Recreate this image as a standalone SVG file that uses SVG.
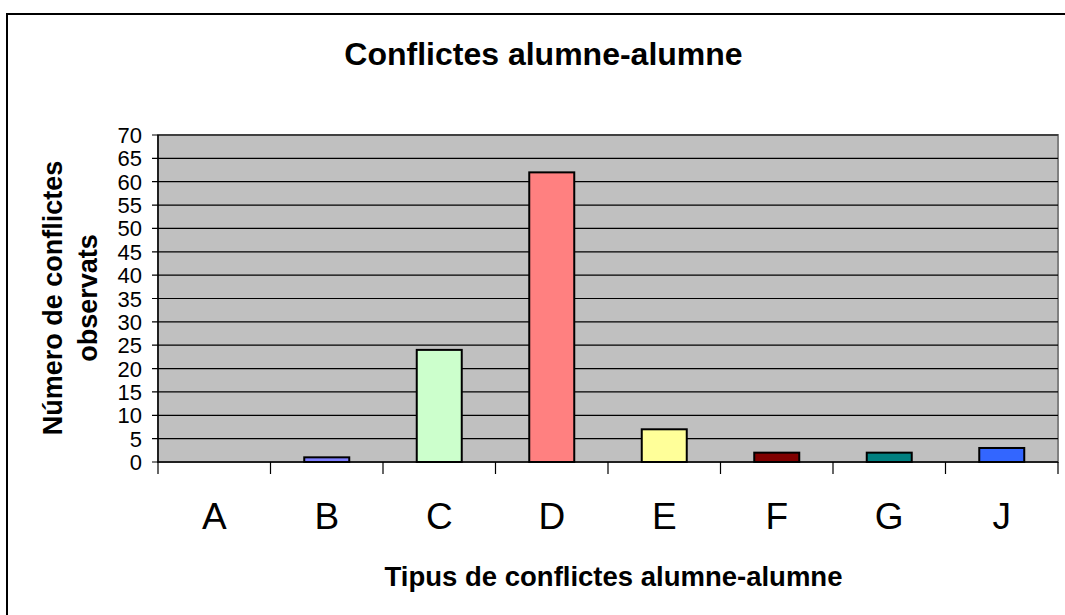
<svg xmlns="http://www.w3.org/2000/svg" width="1065" height="615" viewBox="0 0 1065 615">
<style>
text{font-family:"Liberation Sans",Arial,sans-serif;fill:#000}
.ylab{font-size:22px;text-anchor:end}
.xlab{font-size:37px;text-anchor:middle}
.ttl{font-size:32px;font-weight:bold;text-anchor:middle}
.axt{font-size:27px;font-weight:bold;text-anchor:middle}
.grid{stroke:#000;stroke-width:1.2}
.tick{stroke:#000;stroke-width:1.2}
.bar{stroke:#000;stroke-width:2}
</style>
<rect x="0" y="0" width="1065" height="615" fill="#fff"/>
<rect x="7" y="14" width="1070" height="620" fill="#fff" stroke="#000" stroke-width="2"/>
<g id="plot">
<rect x="158" y="135" width="900" height="327" fill="#C0C0C0" stroke="#808080" stroke-width="2"/>
</g>
<g id="connectors">
<path class="grid" d="M158 438.64H1058M158 415.29H1058M158 391.93H1058M158 368.57H1058M158 345.21H1058M158 321.86H1058M158 298.5H1058M158 275.14H1058M158 251.79H1058M158 228.43H1058M158 205.07H1058M158 181.71H1058M158 158.36H1058M158 135H1058"/>
<path class="tick" d="M152 462H158M152 438.64H158M152 415.29H158M152 391.93H158M152 368.57H158M152 345.21H158M152 321.86H158M152 298.5H158M152 275.14H158M152 251.79H158M152 228.43H158M152 205.07H158M152 181.71H158M152 158.36H158M152 135H158"/>
<path class="tick" d="M158 462V474M270.5 462V474M383 462V474M495.5 462V474M608 462V474M720.5 462V474M833 462V474M945.5 462V474M1058 462V474"/>
<path d="M158 135V462H1058" fill="none" stroke="#000" stroke-width="1.5"/>
</g>
<g id="bar-B"><rect class="bar" x="304.25" y="457.33" width="45" height="4.67" fill="#8080FF"/></g>
<g id="bar-C"><rect class="bar" x="416.75" y="349.89" width="45" height="112.11" fill="#CCFFCC"/></g>
<g id="bar-D"><rect class="bar" x="529.25" y="172.37" width="45" height="289.63" fill="#FF8080"/></g>
<g id="bar-E"><rect class="bar" x="641.75" y="429.3" width="45" height="32.7" fill="#FFFF99"/></g>
<g id="bar-F"><rect class="bar" x="754.25" y="452.66" width="45" height="9.34" fill="#800000"/></g>
<g id="bar-G"><rect class="bar" x="866.75" y="452.66" width="45" height="9.34" fill="#008080"/></g>
<g id="bar-J"><rect class="bar" x="979.25" y="447.99" width="45" height="14.01" fill="#3366FF"/></g>
<g id="y-labels">
<text class="ylab" x="142" y="470">0</text>
<text class="ylab" x="142" y="446.64">5</text>
<text class="ylab" x="142" y="423.29">10</text>
<text class="ylab" x="142" y="399.93">15</text>
<text class="ylab" x="142" y="376.57">20</text>
<text class="ylab" x="142" y="353.21">25</text>
<text class="ylab" x="142" y="329.86">30</text>
<text class="ylab" x="142" y="306.5">35</text>
<text class="ylab" x="142" y="283.14">40</text>
<text class="ylab" x="142" y="259.79">45</text>
<text class="ylab" x="142" y="236.43">50</text>
<text class="ylab" x="142" y="213.07">55</text>
<text class="ylab" x="142" y="189.71">60</text>
<text class="ylab" x="142" y="166.36">65</text>
<text class="ylab" x="142" y="143">70</text>
</g>
<g id="x-labels">
<text class="xlab" x="214.25" y="529">A</text>
<text class="xlab" x="326.75" y="529">B</text>
<text class="xlab" x="439.25" y="529">C</text>
<text class="xlab" x="551.75" y="529">D</text>
<text class="xlab" x="664.25" y="529">E</text>
<text class="xlab" x="776.75" y="529">F</text>
<text class="xlab" x="889.25" y="529">G</text>
<text class="xlab" x="1001.75" y="529">J</text>
</g>
<g id="title"><text class="ttl" x="543.5" y="65">Conflictes alumne-alumne</text></g>
<g id="x-title"><text class="axt" x="613.5" y="586" style="font-size:27.5px">Tipus de conflictes alumne-alumne</text></g>
<g id="y-title">
<text class="axt" transform="translate(62 298) rotate(-90)">Número de conflictes</text>
<text class="axt" transform="translate(97 298) rotate(-90)">observats</text>
</g>
</svg>
